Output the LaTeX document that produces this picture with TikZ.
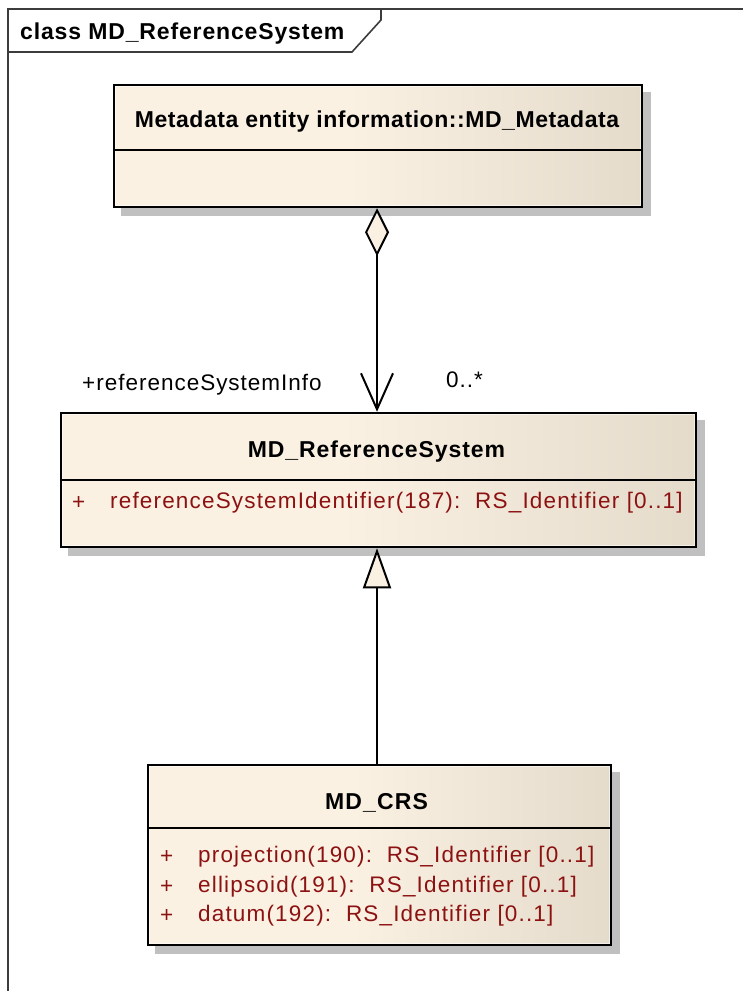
\documentclass[tikz,border=0pt]{standalone}
\usepackage{fontspec}
\setmainfont{Liberation Sans}
\usetikzlibrary{arrows.meta,backgrounds}
\definecolor{umlA}{RGB}{251,241,227}
\definecolor{umlB}{RGB}{229,219,203}
\definecolor{attrred}{RGB}{140,18,18}
\definecolor{shadowgray}{RGB}{192,192,192}
\definecolor{framegray}{RGB}{60,60,60}
\pgfdeclarehorizontalshading{classfill}{100bp}{color(0bp)=(umlA); color(47bp)=(umlA); color(75bp)=(umlB); color(100bp)=(umlB)}
\begin{document}
\begin{tikzpicture}[x=1pt,y=-1pt,
  classbox/.style={draw=black, line width=2.5pt, shading=classfill, rectangle, inner sep=0pt},
  boxshadow/.style={fill=shadowgray},
  divider/.style={draw=black, line width=2pt},
  boldtext/.style={font=\fontsize{23}{27}\selectfont\bfseries\addfontfeature{LetterSpace=#1}, inner sep=0pt},
  boldtext/.default=3.5,
  classname/.style={boldtext=#1},
  classname/.default=3.5,
  regtext/.style={font=\fontsize{22.5}{27}\selectfont\addfontfeature{LetterSpace=#1}, anchor=west, inner sep=0pt},
  regtext/.default=5,
  attr/.style={regtext=5.2, text=attrred},
  plain/.style={regtext=4.4},
  link/.style={draw=black, line width=2pt},
  frameline/.style={draw=framegray, line width=1.6pt}]
\useasboundingbox (0,0) rectangle (742,991);

% diagram frame with its name tab
\draw[frameline] (8,995) -- (8,9) -- (745,9);
\draw[frameline] (8,52) -- (352,52) -- (381,20) -- (381,9);
\node[boldtext=3.7, anchor=west] (frametitle) at (20,34) {class MD\_ReferenceSystem};

% classes
\node[classbox, minimum width=528pt, minimum height=122pt] (meta) at (378,146) {};
\node[classbox, minimum width=635pt, minimum height=134pt] (ref) at (378.5,480) {};
\node[classbox, minimum width=463pt, minimum height=180pt] (crs) at (379.5,855) {};

\begin{scope}[on background layer]
  \foreach \b in {meta,ref,crs}
    \fill[boxshadow] ([shift={(8,8)}]\b.north west) rectangle ([shift={(8,8)}]\b.south east);
\end{scope}

% light inner rims
\foreach \b in {meta,ref,crs}
  \draw[white, opacity=0.55, line width=1pt] ([shift={(3,3)}]\b.north west) rectangle ([shift={(-3,-3)}]\b.south east);

% compartments
\draw[divider] (meta.west |- 0,150) -- (meta.east |- 0,150);
\draw[divider] (ref.west |- 0,480) -- (ref.east |- 0,480);
\draw[divider] (crs.west |- 0,828) -- (crs.east |- 0,828);

% class names
\node[classname=2.4] (metaname) at (377,122) {Metadata entity information::MD\_Metadata};
\node[classname=4] (refname) at (376.5,452) {MD\_ReferenceSystem};
\node[classname=5] (crsname) at (376.5,803) {MD\_CRS};

% attributes
\node[attr] (refvis) at (72,503) {+};
\node[attr] (refattr) at (110,503) {referenceSystemIdentifier(187):\ \ RS\_Identifier [0..1]};
\node[attr] (crsvis1) at (160,857) {+};
\node[attr] (crsattr1) at (198,857) {projection(190):\ \ RS\_Identifier [0..1]};
\node[attr] (crsvis2) at (160,887) {+};
\node[attr] (crsattr2) at (198,887) {ellipsoid(191):\ \ RS\_Identifier [0..1]};
\node[attr] (crsvis3) at (160,916) {+};
\node[attr] (crsattr3) at (198,916) {datum(192):\ \ RS\_Identifier [0..1]};

% aggregation
\draw[link, {Diamond[length=48pt,width=24pt,fill=umlA,line width=2pt]}-{Straight Barb[length=36pt,width=32pt,line width=2pt]}]
  ([xshift=-1pt]meta.south) -- ([xshift=-1.5pt]ref.north);
\node[plain] (role) at (82,385) {+referenceSystemInfo};
\node[plain] (mult) at (446,380) {0..*};

% generalization
\draw[link, -{Triangle[open,length=40pt,width=28pt,fill=umlA,line width=2pt]}]
  ([xshift=-2.5pt]crs.north) -- ([xshift=-1.5pt]ref.south);
\end{tikzpicture}
\end{document}
